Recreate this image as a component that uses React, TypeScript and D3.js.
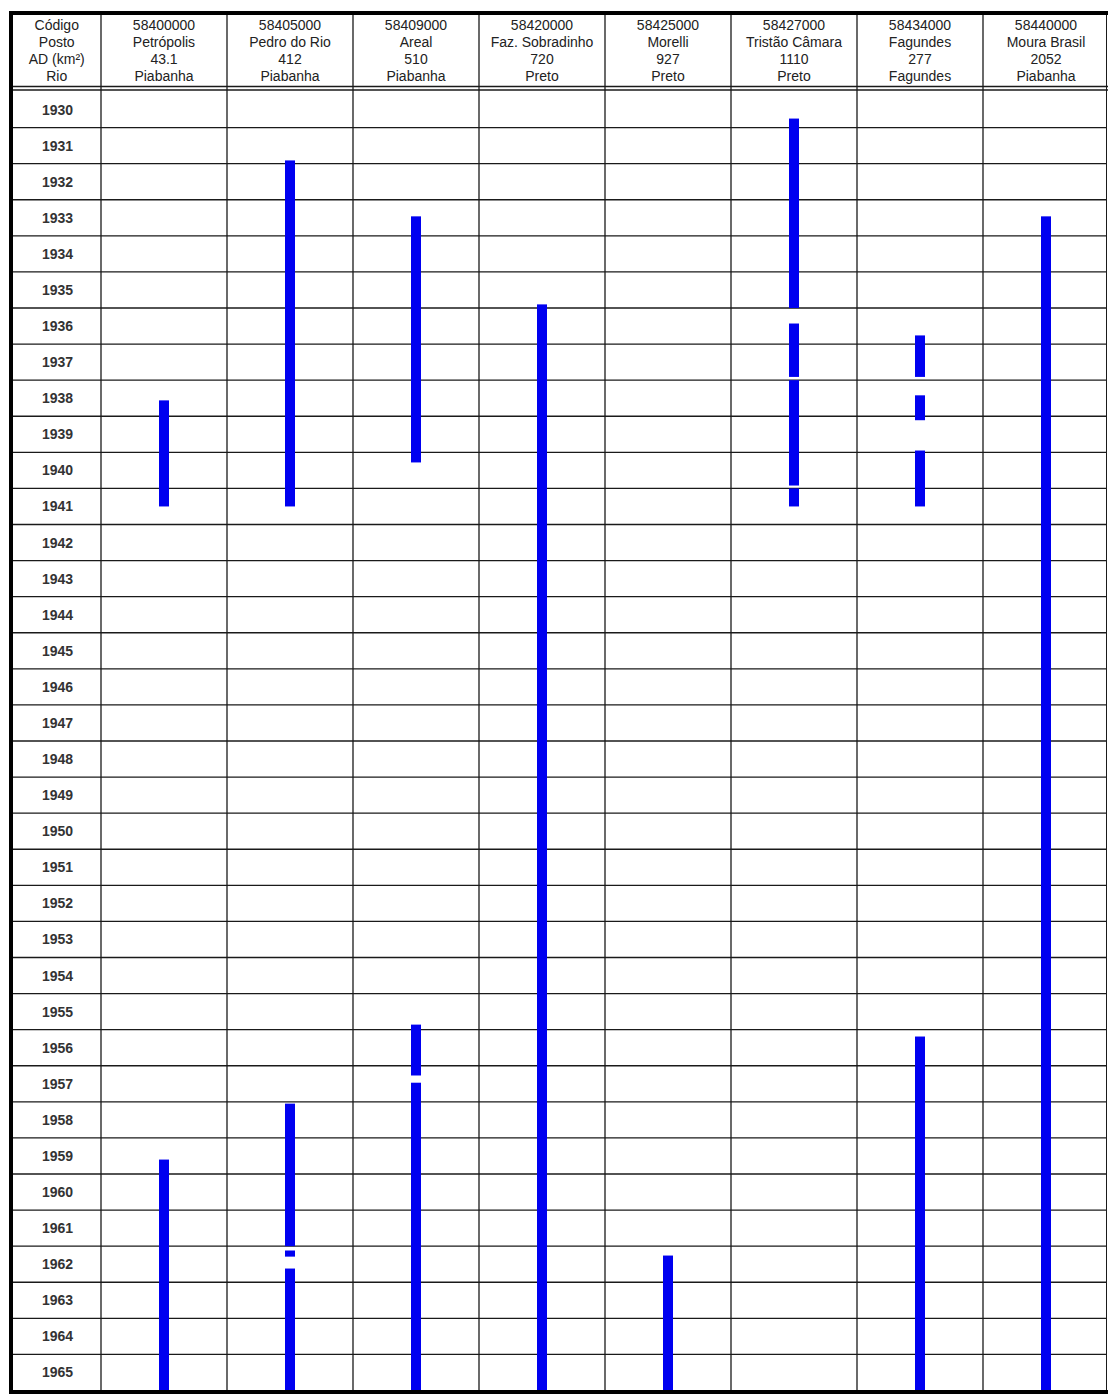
import React from "react";
import * as d3 from "d3";

const yearLabels = [
  1930, 1931, 1932, 1933, 1934, 1935, 1936, 1937, 1938, 1939, 1940, 1941,
  1942, 1943, 1944, 1945, 1946, 1947, 1948, 1949, 1950, 1951, 1952, 1953,
  1954, 1955, 1956, 1957, 1958, 1959, 1960, 1961, 1962, 1963, 1964, 1965,
];

const headerLabels = ["Código", "Posto", "AD (km²)", "Rio"];
const codes = ["58400000", "58405000", "58409000", "58420000", "58425000", "58427000", "58434000", "58440000"];
const names = ["Petrópolis", "Pedro do Rio", "Areal", "Faz. Sobradinho", "Morelli", "Tristão Câmara", "Fagundes", "Moura Brasil"];
const areas = ["43.1", "412", "510", "720", "927", "1110", "277", "2052"];
const rivers = ["Piabanha", "Piabanha", "Piabanha", "Preto", "Preto", "Preto", "Fagundes", "Piabanha"];

// periods of record [start, end] in fractional years
const petropolisPeriods = [[1938.56, 1941.5], [1959.6, 1966]];
const pedroDoRioPeriods = [[1931.91, 1941.5], [1958.05, 1962.0], [1962.12, 1962.29], [1962.62, 1966]];
const arealPeriods = [[1933.46, 1940.28], [1955.86, 1957.27], [1957.47, 1966]];
const sobradinhoPeriods = [[1935.9, 1966]];
const morelliPeriods = [[1962.26, 1966]];
const tristaoPeriods = [[1930.75, 1936.0], [1936.43, 1937.91], [1938.0, 1940.92], [1941.0, 1941.5]];
const fagundesPeriods = [[1936.76, 1937.91], [1938.42, 1939.11], [1939.95, 1941.5], [1956.19, 1966]];
const mouraBrasilPeriods = [[1933.46, 1966]];

const periods = [
  petropolisPeriods,
  pedroDoRioPeriods,
  arealPeriods,
  sobradinhoPeriods,
  morelliPeriods,
  tristaoPeriods,
  fagundesPeriods,
  mouraBrasilPeriods,
];

const W = 1108;
const H = 1394;
const LEFT = 11;
const FIRST_COL_RIGHT = 100.5;
const RIGHT = 1106.5;
const TOP = 13;
const HEADER_BOTTOM = 91.5;
const BOTTOM = 1390.5;
const LINE = "#1a1a1a";
const BLUE = "#0000f0";
const FONT = "'Liberation Sans', Arial, sans-serif";

export default function App() {
  const x = d3.scaleBand<string>().domain(codes).range([101, 1109]).padding(0);
  const y = d3
    .scaleLinear()
    .domain([yearLabels[0], yearLabels[yearLabels.length - 1] + 1])
    .range([HEADER_BOTTOM, BOTTOM]);
  const barW = 10;

  const headerBaselines = [29.5, 46.5, 63.5, 81];
  const colLines = codes.map((c) => x(c) as number);

  return (
    <svg
      width={W}
      height={H}
      style={{ position: "absolute", left: 0, top: 0, display: "block", background: "#fff" }}
      fontFamily={FONT}
    >
      <rect x={0} y={0} width={W} height={H} fill="#fff" />
      {/* row lines */}
      {yearLabels.map((yr, i) =>
        i === 0 ? null : (
          <line key={"r" + yr} x1={LEFT} x2={RIGHT} y1={y(yr)} y2={y(yr)} stroke={LINE} strokeWidth={1.4} />
        )
      )}
      {/* header double line */}
      <line x1={LEFT} x2={RIGHT + 2} y1={86.5} y2={86.5} stroke={LINE} strokeWidth={1.3} />
      <line x1={LEFT} x2={RIGHT + 2} y1={90} y2={90} stroke={LINE} strokeWidth={1.3} />
      {/* column lines */}
      {colLines.map((cx, i) => (
        <line key={"c" + i} x1={cx} x2={cx} y1={TOP} y2={BOTTOM} stroke={LINE} strokeWidth={1.3} />
      ))}
      <line x1={RIGHT} x2={RIGHT} y1={TOP} y2={BOTTOM} stroke={LINE} strokeWidth={1} />
      {/* header texts */}
      {headerLabels.map((t, i) => (
        <text key={"h" + i} x={(LEFT + FIRST_COL_RIGHT) / 2 + 1} y={headerBaselines[i]} textAnchor="middle" fontSize={14} fill="#222">
          {t}
        </text>
      ))}
      {codes.map((c, j) => {
        const cx = (x(c) as number) + x.bandwidth() / 2;
        const lines = [codes[j], names[j], areas[j], rivers[j]];
        return lines.map((t, i) => (
          <text key={c + "-" + i} x={cx} y={headerBaselines[i]} textAnchor="middle" fontSize={14} fill="#222">
            {t}
          </text>
        ));
      })}
      {/* year labels */}
      {yearLabels.map((yr) => (
        <text
          key={"y" + yr}
          x={57.5}
          y={(y(yr) + y(yr + 1)) / 2 + 5}
          textAnchor="middle"
          fontSize={14}
          fontWeight="bold"
          fill="#333"
        >
          {yr}
        </text>
      ))}
      {/* bars */}
      {periods.map((ps, j) => {
        const cx = (x(codes[j]) as number) + x.bandwidth() / 2;
        return ps.map((p, k) => (
          <rect
            key={"b" + j + "-" + k}
            x={cx - barW / 2}
            y={y(p[0])}
            width={barW}
            height={y(p[1]) - y(p[0])}
            fill={BLUE}
          />
        ));
      })}
      {/* thick outer borders */}
      <rect x={LEFT - 2} y={TOP - 2} width={RIGHT + 10 - LEFT} height={4} fill="#000" />
      <rect x={LEFT - 2} y={TOP - 2} width={4} height={BOTTOM - TOP + 4} fill="#000" />
      <rect x={LEFT - 2} y={BOTTOM - 0.5} width={RIGHT + 10 - LEFT} height={4} fill="#000" />
    </svg>
  );
}
